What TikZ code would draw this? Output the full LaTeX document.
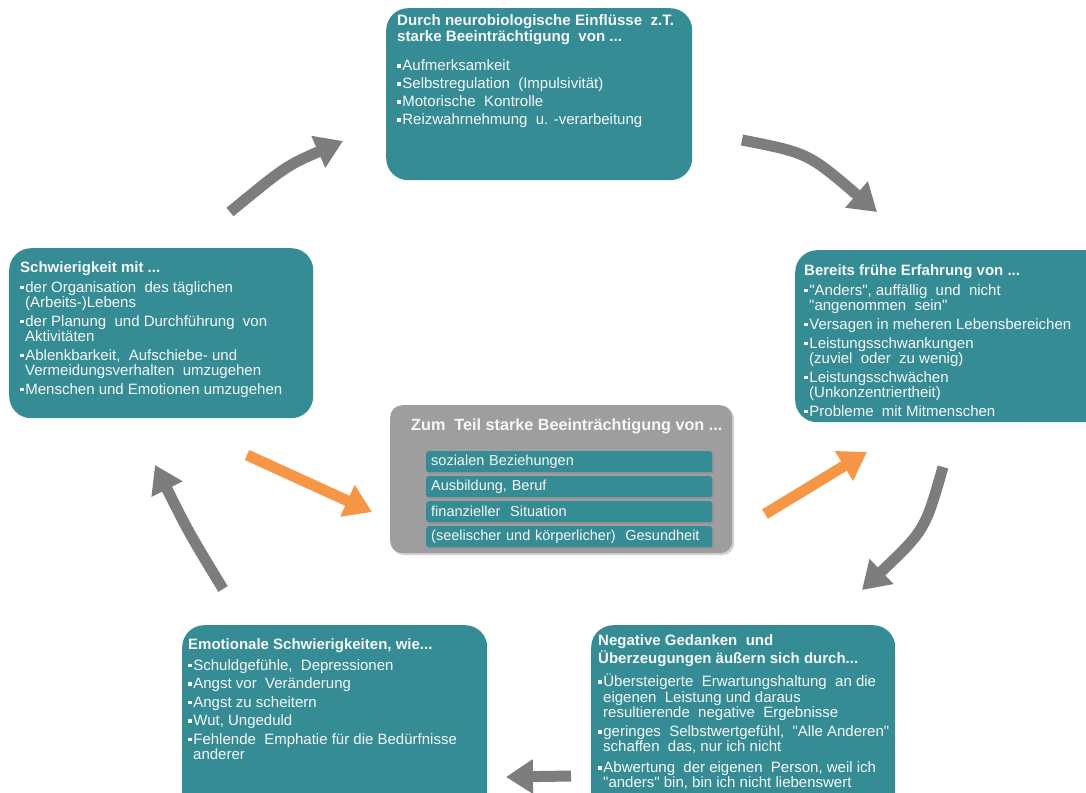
\documentclass[tikz,border=0pt]{standalone}
\usepackage{fontspec}
\setmainfont{Liberation Sans}
\newfontfamily\qf{Liberation Sans}
\usetikzlibrary{arrows.meta,shadows}
\definecolor{tealbox}{RGB}{54,140,148}
\definecolor{graybox}{RGB}{158,158,158}
\definecolor{grayarrow}{RGB}{125,125,125}
\definecolor{orng}{RGB}{247,150,70}
\definecolor{txtw}{RGB}{246,248,248}
\newcommand\bul{\raisebox{3pt}{\rule{3.4pt}{3.4pt}}\hspace{1.8pt}}
\newcommand\cont{\hspace*{5pt}}
\newcommand\q{{\qf"}}
\tikzset{
  box/.style={fill=tealbox, draw=none, rounded corners=22pt, anchor=north west, inner sep=0pt},
  txt/.style={text=txtw, align=left, anchor=north west, inner sep=0pt, font=\fontsize{15}{15}\selectfont},
  cbox/.style={fill=graybox, draw=none, rounded corners=12pt, anchor=north west, inner sep=0pt,
    drop shadow={opacity=0.35, shadow xshift=2pt, shadow yshift=-2pt}},
  bar/.style={fill=tealbox, draw=none, rounded corners=2.5pt, anchor=north west, inner xsep=5pt, inner ysep=0pt,
    minimum height=21pt, text width=276pt, align=left, text=txtw, font=\fontsize{14.5}{15}\selectfont,
    drop shadow={opacity=0.35, shadow xshift=1.5pt, shadow yshift=-1.5pt}},
  garrow/.style={draw=grayarrow, line width=11pt, -{Triangle[length=27pt,width=33pt]}},
  oarrow/.style={draw=orng, line width=11pt, -{Triangle[length=27pt,width=33pt]}},
}
\begin{document}
\begin{tikzpicture}[x=1pt,y=-1pt]
\useasboundingbox (0,0) rectangle (1086,792);
\clip (0,0) rectangle (1086,792);
\fill[white] (0,0) rectangle (1086,792);

% boxes
\node[box, minimum width=306pt, minimum height=172pt] (topbox) at (386,8) {};
\node[box, minimum width=304pt, minimum height=170pt] (leftbox) at (9,248) {};
\node[box, minimum width=315pt, minimum height=172pt] (rightbox) at (795,250) {};
\node[box, minimum width=305pt, minimum height=190pt] (blbox) at (182,625) {};
\node[box, minimum width=304pt, minimum height=190pt] (brbox) at (591,625) {};
\node[cbox, minimum width=342pt, minimum height=148pt] (cbox) at (390,405) {};

% texts
\node[txt] (toptxt) at (397,14.5) {\fontsize{15.1}{15}\selectfont\textbf{Durch neurobiologische Einflüsse\ \ z.T.}\\[1pt]
\fontsize{15.1}{15}\selectfont\textbf{starke Beeinträchtigung\ \ von ...}\\[14pt]
\bul Aufmerksamkeit\\[3pt]
\bul Selbstregulation\ \ (Impulsivität)\\[3pt]
\bul Motorische\ \ Kontrolle\\[3pt]
\bul Reizwahrnehmung\ \ u. -verarbeitung};

\node[txt] (lefttxt) at (20,261) {\textbf{Schwierigkeit mit ...}\\[5pt]
\bul der Organisation\ \ des täglichen\\
\cont(Arbeits-)Lebens\\[4pt]
\bul der Planung\ \ und Durchführung\ \ von\\
\cont Aktivitäten\\[4pt]
\bul Ablenkbarkeit,\ \ Aufschiebe- und\\
\cont Vermeidungsverhalten\ \ umzugehen\\[4pt]
\bul Menschen und Emotionen umzugehen};

\node[txt] (righttxt) at (804,264) {\textbf{Bereits frühe Erfahrung von ...}\\[5pt]
\bul \q Anders\q, auffällig\ \ und\ \ nicht\\
\cont\q angenommen\ \ sein\q\\[4pt]
\bul Versagen in meheren Lebensbereichen\\[4pt]
\bul Leistungsschwankungen\\
\cont(zuviel\ \ oder\ \ zu wenig)\\[4pt]
\bul Leistungsschwächen\\
\cont(Unkonzentriertheit)\\[4pt]
\bul Probleme\ \ mit Mitmenschen};

\node[txt] (bltxt) at (188,638) {\textbf{Emotionale Schwierigkeiten, wie...}\\[6pt]
\bul Schuldgefühle,\ \ Depressionen\\[3.5pt]
\bul Angst vor\ \ Veränderung\\[3.5pt]
\bul Angst zu scheitern\\[3.5pt]
\bul Wut, Ungeduld\\[3.5pt]
\bul Fehlende\ \ Emphatie für die Bedürfnisse\\
\cont anderer};

\node[txt] (brtxt) at (598,634) {\textbf{Negative Gedanken\ \ und}\\[1pt]
\textbf{Überzeugungen äußern sich durch...}\\[7pt]
\bul Übersteigerte\ \ Erwartungshaltung\ \ an die\\[0.5pt]
\cont eigenen\ \ Leistung und daraus\\[0.5pt]
\cont resultierende\ \ negative\ \ Ergebnisse\\[4pt]
\bul geringes\ \ Selbstwertgefühl,\ \ \q Alle Anderen\q\\
\cont schaffen\ \ das, nur ich nicht\\[6pt]
\bul Abwertung\ \ der eigenen\ \ Person, weil ich\\
\cont\q anders\q\ bin, bin ich nicht liebenswert};

\node[txt, font=\fontsize{16.2}{17}\selectfont\bfseries] (ctitle) at (411,418.5) {Zum\ \ Teil starke Beeinträchtigung von ...};
\node[bar] (bar1) at (426,451) {sozialen Beziehungen};
\node[bar] (bar2) at (426,476) {Ausbildung, Beruf};
\node[bar] (bar3) at (426,501) {finanzieller\ \ Situation};
\node[bar] (bar4) at (426,526) {(seelischer und körperlicher)\ \ Gesundheit};

% arrow end points
\coordinate (a1s) at (230,212); \coordinate (a1e) at (343,141);
\coordinate (a2s) at (742,140); \coordinate (a2e) at (877,212);
\coordinate (a3s) at (943,467); \coordinate (a3e) at (862,590);
\coordinate (a4s) at (571,776); \coordinate (a4e) at (506,777);
\coordinate (a5s) at (223,589); \coordinate (a5e) at (155,465);
\coordinate (o1s) at (247,455); \coordinate (o1e) at (372,512);
\coordinate (o2s) at (765,514); \coordinate (o2e) at (867,452);

\draw[garrow] (a1s) .. controls (286,166) .. (a1e);
\draw[garrow] (a2s) .. controls (808,153) .. (a2e);
\draw[garrow] (a3s) .. controls (925,530) .. (a3e);
\draw[garrow] (a4s) -- (a4e);
\draw[garrow] (a5s) .. controls (189,533) .. (a5e);
\draw[oarrow] (o1s) -- (o1e);
\draw[oarrow] (o2s) -- (o2e);
\end{tikzpicture}
\end{document}
